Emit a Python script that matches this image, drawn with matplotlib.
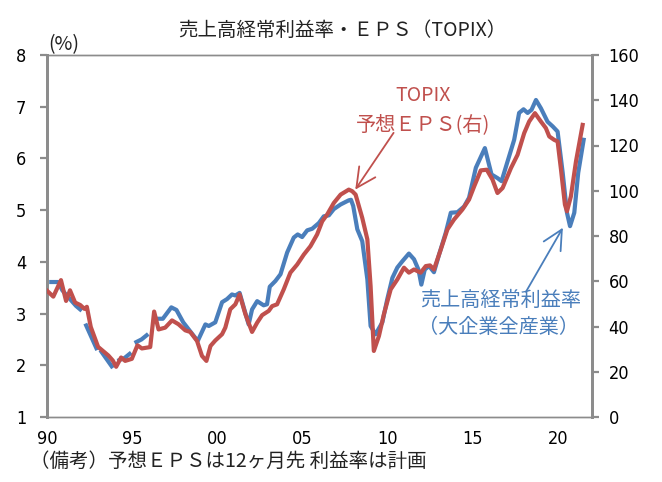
import numpy as np
import matplotlib
matplotlib.use("Agg")
import matplotlib.pyplot as plt
from matplotlib import font_manager

plt.rcParams['font.family'] = ['Noto Sans CJK JP', 'DejaVu Sans']

nan = np.nan
# 売上高経常利益率 (大企業全産業), %, left axis  (gaps = missing)
blue_year = [1990.25, 1990.65, 1990.9, 1991.35, 1991.7, 1991.95, nan,
             1992.3, 1992.6, 1992.9, nan,
             1993.2, 1993.5, 1993.8, nan,
             1994.25, 1994.55, 1994.85, nan,
             1995.25, 1995.55, 1995.85, nan,
             1996.35, 1996.8, 1997.3, 1997.6, 1998.0, 1998.4, 1998.85, 1999.3, 1999.5,
             1999.88, 2000.28, 2000.57, 2000.86, 2001.06, 2001.31, 2001.55, 2001.84,
             2002.04, 2002.34, 2002.72, 2002.92, 2003.08, 2003.41, 2003.71, 2004.1,
             2004.49, 2004.72, 2004.98, 2005.28, 2005.57, 2005.96, 2006.25, 2006.55,
             2006.84, 2007.24, 2007.72, 2007.85, 2007.98, 2008.22, 2008.51, 2008.81,
             2009.0, 2009.29, 2009.69, 2009.98, 2010.28, 2010.57, 2010.86, 2011.25,
             2011.55, 2011.81, 2011.98, 2012.18, 2012.43, 2012.72, 2013.02, 2013.41,
             2013.71, 2014.1, 2014.49, 2014.78, 2015.18, 2015.71, 2016.1, 2016.45,
             2016.69, 2017.04, 2017.43, 2017.72, 2017.98, 2018.22, 2018.45, 2018.71,
             2019.0, 2019.39, 2019.69, 2019.98, 2020.28, 2020.53, 2020.71, 2020.96,
             2021.19, 2021.51]
blue_val = [3.61, 3.61, 3.45, 3.28, 3.15, 3.08, nan,
            2.77, 2.55, 2.33, nan,
            2.26, 2.12, 1.98, nan,
            2.10, 2.14, 2.22, nan,
            2.45, 2.50, 2.58, nan,
            2.90, 2.90, 3.12, 3.07, 2.83, 2.66, 2.47, 2.79, 2.76,
            2.83, 3.22, 3.28, 3.37, 3.35, 3.40, 3.12, 2.79,
            3.08, 3.24, 3.16, 3.18, 3.52, 3.63, 3.76, 4.18,
            4.47, 4.53, 4.48, 4.61, 4.64, 4.75, 4.88, 4.90,
            5.02, 5.11, 5.19, 5.20, 5.08, 4.63, 4.40, 3.66,
            2.76, 2.60, 2.83, 3.28, 3.69, 3.89, 4.01, 4.16,
            4.05, 3.85, 3.56, 3.85, 3.92, 3.80, 4.14, 4.56,
            4.95, 4.96, 5.07, 5.24, 5.82, 6.20, 5.69, 5.62,
            5.56, 5.94, 6.36, 6.88, 6.95, 6.88, 6.94, 7.13,
            6.97, 6.71, 6.62, 6.52, 5.72, 4.95, 4.69, 4.95,
            5.72, 6.36]

# TOPIX 予想EPS, right axis
red_year = [1990.02, 1990.37, 1990.82, 1991.12, 1991.35, 1991.65, 1991.95, 1992.2,
            1992.34, 1992.57, 1993.0, 1993.6, 1993.86, 1994.06, 1994.35, 1994.59,
            1994.98, 1995.31, 1995.57, 1996.06, 1996.29, 1996.55, 1996.94, 1997.34,
            1997.72, 1998.12, 1998.41, 1998.81, 1999.1, 1999.36, 1999.6, 1999.88,
            2000.28, 2000.47, 2000.76, 2001.06, 2001.31, 2001.65, 2002.04, 2002.34,
            2002.63, 2003.02, 2003.22, 2003.51, 2003.9, 2004.29, 2004.69, 2005.08,
            2005.47, 2005.86, 2006.16, 2006.45, 2006.84, 2007.24, 2007.72, 2007.92,
            2008.12, 2008.51, 2008.81, 2009.0, 2009.19, 2009.49, 2009.78, 2010.18,
            2010.57, 2010.96, 2011.25, 2011.55, 2011.94, 2012.24, 2012.49, 2012.72,
            2013.12, 2013.51, 2013.9, 2014.39, 2014.78, 2015.08, 2015.47, 2015.82,
            2016.16, 2016.45, 2016.75, 2017.24, 2017.63, 2018.02, 2018.31, 2018.65,
            2019.0, 2019.29, 2019.49, 2019.78, 2019.98, 2020.18, 2020.41, 2020.53,
            2020.76, 2021.06, 2021.45]
red_val = [55.7, 53.2, 60.5, 51.3, 56.0, 50.6, 49.5, 47.8,
           48.7, 39.8, 31.0, 27.2, 25.0, 22.2, 26.3, 24.8,
           25.7, 31.7, 30.3, 30.9, 46.6, 38.7, 39.5, 42.7,
           41.0, 38.3, 37.6, 33.6, 27.0, 24.8, 31.4, 33.8,
           36.6, 39.5, 47.6, 49.8, 54.2, 45.4, 37.6, 41.7,
           45.0, 46.9, 49.0, 49.8, 56.4, 63.8, 67.4, 71.8,
           75.5, 80.7, 86.5, 89.5, 94.6, 98.3, 100.5, 99.8,
           98.3, 88.0, 78.5, 57.9, 29.2, 35.8, 45.4, 56.4,
           60.8, 66.0, 63.8, 65.2, 63.8, 66.7, 67.0, 65.2,
           74.0, 82.9, 87.3, 91.7, 96.1, 101.9, 109.0, 109.3,
           104.9, 99.0, 101.2, 110.0, 115.9, 125.5, 130.6, 134.3,
           130.6, 127.7, 124.0, 122.5, 121.8, 109.3, 93.9, 90.9,
           97.5, 113.0, 129.1]

x_ticks = [1990, 1995, 2000, 2005, 2010, 2015, 2020]
x_labels = ['90', '95', '00', '05', '10', '15', '20']
left_ticks = [1, 2, 3, 4, 5, 6, 7, 8]
right_ticks = [0, 20, 40, 60, 80, 100, 120, 140, 160]

BLUE = '#4a7ebb'
RED = '#c0504d'
GRAY = '#8c8c8c'

names = {f.name for f in font_manager.fontManager.ttflist}
if 'Liberation Sans Narrow' in names:
    num_font = dict(family='Liberation Sans Narrow', size=15.5)
else:
    num_font = dict(family='DejaVu Sans', stretch='condensed', size=13)

fig = plt.figure(figsize=(6.62, 4.82), dpi=100)
ax = fig.add_axes([47/662, 1-417/482, (592-47)/662, (417-55)/482])
ax2 = ax.twinx()

ax.plot(blue_year, blue_val, color=BLUE, lw=3.0, solid_joinstyle='round', zorder=2)
ax2.plot(red_year, red_val, color=RED, lw=3.0, solid_joinstyle='round', zorder=3)

ax.set_xlim(1990, 2022)
ax.set_ylim(1, 8)
ax2.set_ylim(0, 160)

ax.set_xticks(x_ticks)
ax.set_xticklabels(x_labels, fontdict=num_font)
ax.set_yticks(left_ticks)
ax.set_yticklabels([str(t) for t in left_ticks], fontdict=num_font)
ax2.set_yticks(right_ticks)
ax2.set_yticklabels([str(t) for t in right_ticks], fontdict=num_font)

ax.tick_params(axis='x', length=0, pad=9)
ax.tick_params(axis='y', length=5, width=1.6, color=GRAY, pad=10)
ax2.tick_params(axis='y', length=5, width=1.6, color=GRAY, pad=7)

for a in (ax, ax2):
    for side in ('left', 'right'):
        a.spines[side].set_color(GRAY)
        a.spines[side].set_linewidth(2.0)
    for side in ('top', 'bottom'):
        a.spines[side].set_color(GRAY)
        a.spines[side].set_linewidth(1.0)

fig.text(342/662, 1-30/482, '売上高経常利益率・ＥＰＳ（TOPIX）', ha='center', va='center',
         fontsize=14, color='#222222')
fig.text(64/662, 1-45/482, '(%)', ha='center', va='center', fontsize=14, color='#222222')
fig.text(30/662, 1-461/482, '（備考）予想ＥＰＳは12ヶ月先 利益率は計画', ha='left', va='center',
         fontsize=14, color='#222222')

# annotations
ax2.text(2012.06, 141.9, 'TOPIX', ha='center', va='center', fontsize=14, color=RED)
ax2.text(2012.06, 129.1, '予想ＥＰＳ(右)', ha='center', va='center', fontsize=14.5, color=RED)
ax2.annotate('', xy=(2008.1, 100.5), xytext=(2010.35, 125.6),
             arrowprops=dict(arrowstyle='->,head_length=0.7,head_width=0.35', color=RED,
                             lw=1.3, mutation_scale=20, shrinkA=0, shrinkB=0))

ax.text(2016.65, 3.25, '売上高経常利益率', ha='center', va='center', fontsize=14.5, color=BLUE)
ax.text(2016.53, 2.73, '（大企業全産業）', ha='center', va='center', fontsize=14.5, color=BLUE)
ax.annotate('', xy=(2020.29, 4.66), xytext=(2018.12, 3.42),
            arrowprops=dict(arrowstyle='->,head_length=0.7,head_width=0.35', color=BLUE,
                            lw=1.3, mutation_scale=20, shrinkA=0, shrinkB=0))

fig.savefig('out.png', dpi=100)
